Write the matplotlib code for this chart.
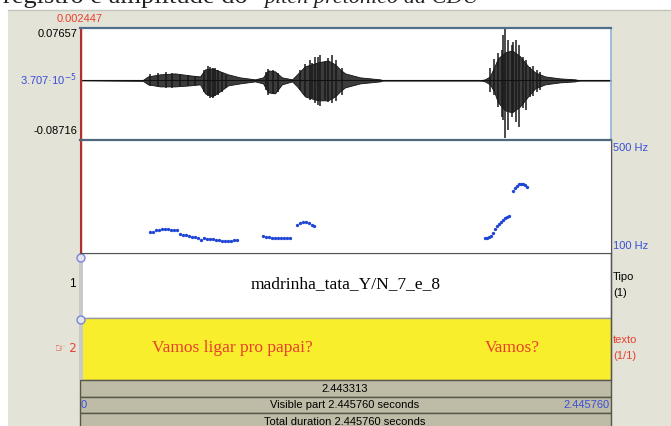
import matplotlib
matplotlib.use("Agg")
import matplotlib.pyplot as plt
from matplotlib.patches import Rectangle, Circle

W, H = 671, 426
DUR = 2.44576
CURSOR = 0.002447
AMP_TOP, AMP_BOT = 0.07657, -0.08716

# waveform envelope (s, upper, lower)
env_t = [0.000, 0.290, 0.313, 0.368, 0.438, 0.507, 0.553, 0.576, 0.608, 0.645,
         0.682, 0.737, 0.806, 0.843, 0.866, 0.898, 0.930, 0.977, 1.000, 1.036,
         1.096, 1.142, 1.175, 1.198, 1.221, 1.290, 1.382, 1.396, 1.842, 1.865,
         1.888, 1.907, 1.925, 1.958, 1.990, 2.027, 2.064, 2.096, 2.142, 2.211,
         2.280, 2.303, 2.446]
env_up = [0.0, 0.0007, 0.0058, 0.0088, 0.0102, 0.0073, 0.0058, 0.0161, 0.0175, 0.0132,
          0.0088, 0.0044, 0.0015, 0.0044, 0.0146, 0.0132, 0.0044, 0.0015, 0.0088, 0.0205,
          0.0263, 0.0292, 0.0234, 0.0160, 0.0102, 0.0044, 0.0015, 0.0, 0.0, 0.0015,
          0.0058, 0.0190, 0.0322, 0.0409, 0.0439, 0.0351, 0.0205, 0.0117, 0.0058, 0.0029,
          0.0015, 0.0, 0.0]
env_lo = [0.0, -0.0007, -0.0058, -0.0088, -0.0088, -0.0073, -0.0058, -0.0190, -0.0234, -0.0160,
          -0.0073, -0.0044, -0.0015, -0.0044, -0.0175, -0.0190, -0.0058, -0.0015, -0.0088, -0.0234,
          -0.0292, -0.0292, -0.0234, -0.0160, -0.0102, -0.0044, -0.0015, 0.0, 0.0, -0.0015,
          -0.0058, -0.0160, -0.0322, -0.0439, -0.0468, -0.0380, -0.0234, -0.0117, -0.0058, -0.0029,
          -0.0015, 0.0, 0.0]

# individual peaks standing out of the envelope
spike_t = [0.322, 0.359, 0.396, 0.424, 0.461, 0.498, 0.530,
           0.571, 0.590, 0.599, 0.613, 0.622, 0.636, 0.654, 0.672,
           0.857, 0.866, 0.889, 0.912,
           1.013, 1.036, 1.059, 1.069, 1.082, 1.096, 1.105, 1.128, 1.142, 1.161, 1.179, 1.207,
           1.889, 1.908, 1.927, 1.942, 1.948, 1.958, 1.973, 1.988, 1.994, 2.008, 2.024,
           2.039, 2.054, 2.073, 2.087, 2.104, 2.119]
spike_hi = [0.0094, 0.0108, 0.0123, 0.0108, 0.0094, 0.0079, 0.0064,
            0.0152, 0.0211, 0.0196, 0.0181, 0.0180, 0.0152, 0.0123, 0.0079,
            0.0123, 0.0167, 0.0152, 0.0108,
            0.0152, 0.0240, 0.0298, 0.0254, 0.0342, 0.0342, 0.0371, 0.0269, 0.0327, 0.0370, 0.0298, 0.0181,
            0.0181, 0.0313, 0.0401, 0.0444, 0.0664, 0.0766, 0.0591, 0.0518, 0.0561, 0.0591, 0.0518,
            0.0342, 0.0298, 0.0196, 0.0211, 0.0152, 0.0123]
spike_lo = [-0.0082, -0.0096, -0.0111, -0.0111, -0.0082, -0.0082, -0.0067,
            -0.0170, -0.0228, -0.0257, -0.0257, -0.0230, -0.0213, -0.0170, -0.0111,
            -0.0140, -0.0213, -0.0199, -0.0170,
            -0.0140, -0.0228, -0.0287, -0.0257, -0.0330, -0.0360, -0.0374, -0.0287, -0.0316, -0.0330, -0.0301, -0.0213,
            -0.0170, -0.0213, -0.0389, -0.0535, -0.0579, -0.0842, -0.0725, -0.0535, -0.0462, -0.0608, -0.0681,
            -0.0404, -0.0433, -0.0243, -0.0228, -0.0170, -0.0140]

# pitch contour (s, Hz), one list per voiced stretch
pitch_t = [
    [0.322, 0.336, 0.350, 0.364, 0.378, 0.392, 0.405, 0.419, 0.433, 0.447,
     0.461, 0.474, 0.488, 0.502, 0.516, 0.530, 0.544, 0.557, 0.571, 0.585,
     0.599, 0.613, 0.626, 0.640, 0.654, 0.668, 0.682, 0.696, 0.709, 0.723],
    [0.843, 0.857, 0.871, 0.884, 0.898, 0.912, 0.926, 0.940, 0.953, 0.967],
    [1.000, 1.013, 1.027, 1.041, 1.055, 1.069, 1.078],
    [1.865, 1.875, 1.884, 1.893, 1.902, 1.912, 1.921, 1.930, 1.939, 1.948, 1.958, 1.967, 1.976],
    [1.994, 2.004, 2.013, 2.022, 2.031, 2.041, 2.050, 2.059],
]
pitch_hz = [
    [174, 176, 180, 183, 185, 185, 185, 183, 183, 181,
     167, 164, 164, 160, 158, 157, 153, 146, 153, 151,
     150, 148, 146, 146, 144, 144, 144, 144, 146, 146],
    [160, 156, 155, 154, 154, 153, 153, 153, 153, 154],
    [199, 206, 210, 210, 206, 199, 196],
    [153, 153, 155, 160, 170, 185, 196, 203, 210, 217, 224, 227, 231],
    [319, 330, 337, 344, 344, 344, 341, 334],
]

tier1_label = "madrinha_tata_Y/N_7_e_8"
tier2_labels = [("Vamos ligar pro papai?", 0.70), ("Vamos?", 1.99)]

GRAY = "#e3e3d7"
BAR = "#bebba6"
BLUE = "#3a4fd8"
RED = "#e8402f"
SANS = "Liberation Sans"
SERIF = "Liberation Serif"

fig = plt.figure(figsize=(W / 100, H / 100), dpi=100)
fig.patch.set_facecolor("white")

# window chrome in pixel coordinates
ax0 = fig.add_axes([0, 0, 1, 1], zorder=0)
ax0.set_xlim(0, W)
ax0.set_ylim(H, 0)
ax0.axis("off")

ax0.add_patch(Rectangle((8, 10), W - 8, H - 10, facecolor=GRAY, edgecolor="none"))
ax0.plot([8, W], [10, 10], color="#c4c4b8", lw=1)

# caption line running off the top edge
ax0.text(3, 3.5, "registro e amplitude do ", family=SERIF, fontsize=19,
         va="baseline", ha="left", color="#222222")
ax0.text(264, 3.5, "pitch pretônico da CDU", family=SERIF, fontsize=16, style="italic",
         va="baseline", ha="left", color="#222222")

ax0.text(80, 19, "0.002447", family=SANS, fontsize=8, color=RED, ha="center", va="center")
ax0.text(77, 34, "0.07657", family=SANS, fontsize=8, ha="right", va="center")
ax0.text(77, 80, "3.707·10$^{-5}$", family=SANS, fontsize=8, color=BLUE, ha="right", va="center")
ax0.text(77, 131, "-0.08716", family=SANS, fontsize=8, ha="right", va="center")
ax0.text(613, 148, "500 Hz", family=SANS, fontsize=8, color=BLUE, ha="left", va="center")
ax0.text(613, 246, "100 Hz", family=SANS, fontsize=8, color=BLUE, ha="left", va="center")

# tiers
ax0.add_patch(Rectangle((80, 253), 531, 65, facecolor="white", edgecolor="#9a9a9a", lw=1))
ax0.add_patch(Rectangle((80, 318), 531, 62, facecolor="#f8ee2c", edgecolor="#9a9a9a", lw=1))
ax0.add_patch(Rectangle((79, 253), 4, 127, facecolor="#c9c9c9", edgecolor="none"))
for cy in (258, 320):
    ax0.add_patch(Circle((81, cy), 4, facecolor="#e4e4ee", edgecolor="#7a86e0", lw=1))
ax0.plot([611, 611], [140, 380], color="#555555", lw=1)

ax0.text(76, 284, "1", family=SANS, fontsize=8.5, ha="right", va="center")
ax0.text(77, 348, "☞ 2", family=["DejaVu Sans"], fontsize=8.5, color=RED, ha="right", va="center")
ax0.text(613, 277, "Tipo", family=SANS, fontsize=8, ha="left", va="center")
ax0.text(613, 293, "(1)", family=SANS, fontsize=8, ha="left", va="center")
ax0.text(613, 340, "texto", family=SANS, fontsize=8, color=RED, ha="left", va="center")
ax0.text(613, 356, "(1/1)", family=SANS, fontsize=8, color=RED, ha="left", va="center")

def t2x(t):
    return 80 + t / DUR * 531

ax0.text(t2x(DUR / 2), 284, tier1_label, family=SERIF, fontsize=12.5, ha="center", va="center")
for txt, t in tier2_labels:
    ax0.text(t2x(t), 348, txt, family=SERIF, fontsize=12.5, color=RED, ha="center", va="center")

# duration bars
for y0, h in ((380, 17), (397, 16), (413, 17)):
    ax0.add_patch(Rectangle((80, y0), 531, h, facecolor=BAR, edgecolor="#55554a", lw=1))
ax0.text(345, 388.5, "%.6f" % (DUR - CURSOR), family=SANS, fontsize=8, ha="center", va="center")
ax0.text(345, 405, "Visible part %.6f seconds" % DUR, family=SANS, fontsize=8, ha="center", va="center")
ax0.text(81, 405, "0", family=SANS, fontsize=8, color=BLUE, ha="left", va="center")
ax0.text(610, 405, "%.6f" % DUR, family=SANS, fontsize=8, color=BLUE, ha="right", va="center")
ax0.text(345, 422, "Total duration %.6f seconds" % DUR, family=SANS, fontsize=8, ha="center", va="center")

# waveform
ax_w = fig.add_axes([80 / W, 1 - 140 / H, 531 / W, 112 / H], zorder=2)
ax_w.set_facecolor("white")
ax_w.fill_between(env_t, env_lo, env_up, facecolor="#3c3c3c", edgecolor="#111111", lw=0.6)
ax_w.vlines(spike_t, spike_lo, spike_hi, color="#1a1a1a", lw=1.1)
ax_w.plot([0, DUR], [0, 0], color="#111111", lw=0.8)
ax_w.axvline(CURSOR, color="#b03030", lw=1)
ax_w.set_xlim(0, DUR)
ax_w.set_ylim(AMP_BOT, AMP_TOP)
ax_w.set_xticks([])
ax_w.set_yticks([])
ax_w.spines["top"].set_color("#4d6f8c")
ax_w.spines["top"].set_linewidth(1.6)
ax_w.spines["right"].set_color("#8fb3d6")
ax_w.spines["right"].set_linewidth(1.2)
ax_w.spines["left"].set_color("#b03030")
ax_w.spines["bottom"].set_visible(False)

# pitch
ax_p = fig.add_axes([80 / W, 1 - 253 / H, 531 / W, 113 / H], zorder=2)
ax_p.set_facecolor("white")
for ts, hz in zip(pitch_t, pitch_hz):
    ax_p.plot(ts, hz, "o", color="#1f45d6", ms=2.4, mec="none")
ax_p.axvline(CURSOR, color="#b03030", lw=1)
ax_p.set_xlim(0, DUR)
ax_p.set_ylim(100, 500)
ax_p.set_xticks([])
ax_p.set_yticks([])
ax_p.spines["top"].set_color("#50687c")
ax_p.spines["top"].set_linewidth(1.6)
ax_p.spines["right"].set_color("#555555")
ax_p.spines["left"].set_color("#b03030")
ax_p.spines["bottom"].set_color("#555555")

fig.savefig("out.png", dpi=100)
